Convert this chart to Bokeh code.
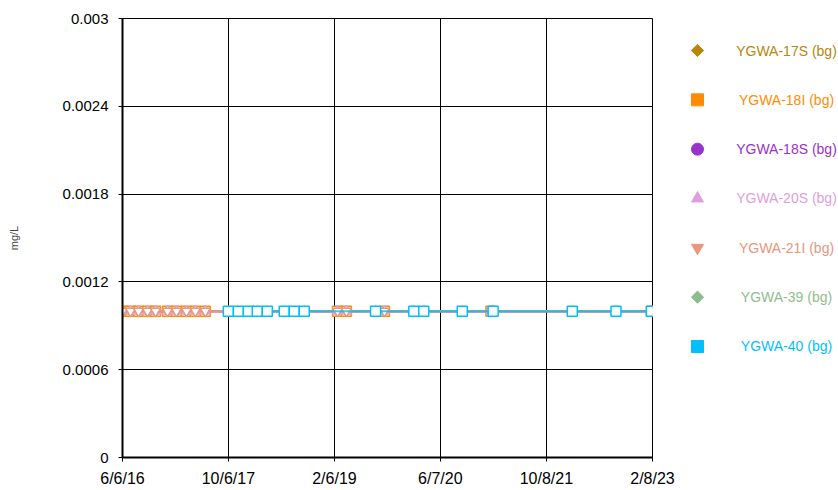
import pandas as pd
from bokeh.plotting import figure
from bokeh.models import Range1d, FixedTicker, ColumnDataSource
from bokeh.layouts import row
from bokeh.embed import file_html
from bokeh.resources import INLINE
from bokeh.core.properties import value

# ---------------- data ----------------
series_names = ["YGWA-17S (bg)", "YGWA-18I (bg)", "YGWA-18S (bg)", "YGWA-20S (bg)",
                "YGWA-21I (bg)", "YGWA-39 (bg)", "YGWA-40 (bg)"]
series_colors = ["#B8860B", "#FF8C00", "#9932CC", "#DDA0DD", "#E9967A", "#8FBC8F", "#00BFFF"]
series_markers = ["diamond", "square", "circle", "triangle", "inverted_triangle", "diamond", "square"]

# sampling dates of the upgradient wells (17S, 18I, 18S, 20S, 21I)
dates_upgradient = ["2016-06-06", "2016-07-13", "2016-08-19", "2016-09-29", "2016-11-05",
                    "2016-12-30", "2017-02-09", "2017-03-27", "2017-05-07", "2017-06-22",
                    "2019-02-20", "2019-04-02", "2019-09-24", "2021-01-26", "2023-02-03"]
values_17S = [0.001, 0.001, 0.001, 0.001, 0.001, 0.001, 0.001, 0.001, 0.001, 0.001, 0.001, 0.001, 0.001, 0.001, 0.001]
values_18I = [0.001, 0.001, 0.001, 0.001, 0.001, 0.001, 0.001, 0.001, 0.001, 0.001, 0.001, 0.001, 0.001, 0.001, 0.001]
values_18S = [0.001, 0.001, 0.001, 0.001, 0.001, 0.001, 0.001, 0.001, 0.001, 0.001, 0.001, 0.001, 0.001, 0.001, 0.001]
values_20S = [0.001, 0.001, 0.001, 0.001, 0.001, 0.001, 0.001, 0.001, 0.001, 0.001, 0.001, 0.001, 0.001, 0.001, 0.001]
values_21I = [0.001, 0.001, 0.001, 0.001, 0.001, 0.001, 0.001, 0.001, 0.001, 0.001, 0.001, 0.001, 0.001, 0.001, 0.001]

# sampling dates of wells 39 and 40
dates_40 = ["2017-10-06", "2017-11-21", "2018-01-06", "2018-02-16", "2018-04-03",
            "2018-06-20", "2018-08-05", "2018-09-20", "2019-08-14", "2020-02-06",
            "2020-03-23", "2020-09-16", "2021-02-05", "2022-02-04", "2022-08-24", "2023-02-03"]
values_39 = [0.001, 0.001, 0.001, 0.001, 0.001, 0.001, 0.001, 0.001, 0.001, 0.001, 0.001, 0.001, 0.001, 0.001, 0.001, 0.001]
values_40 = [0.001, 0.001, 0.001, 0.001, 0.001, 0.001, 0.001, 0.001, 0.001, 0.001, 0.001, 0.001, 0.001, 0.001, 0.001, 0.001]

x_tick_dates = ["2016-06-06", "2017-10-06", "2019-02-06", "2020-06-07", "2021-10-08", "2023-02-08"]
x_tick_labels = ["6/6/16", "10/6/17", "2/6/19", "6/7/20", "10/8/21", "2/8/23"]
y_ticks = [0, 0.0006, 0.0012, 0.0018, 0.0024, 0.003]
y_tick_labels = ["0", "0.0006", "0.0012", "0.0018", "0.0024", "0.003"]
y_label = "mg/L"

series_dates = [dates_upgradient] * 5 + [dates_40, dates_40]
series_values = [values_17S, values_18I, values_18S, values_20S, values_21I, values_39, values_40]

FONT = "Liberation Sans"


def marker_style(m):
    # diamonds drawn as squares turned by 45 degrees (equal width and height)
    if m == "diamond":
        return "square", 0.7854, 0.72
    return m, 0.0, 1.0


# ---------------- main plot ----------------
x_ticks_dt = pd.to_datetime(x_tick_dates)
x_ticks_ms = [int(t.value // 10**6) for t in x_ticks_dt]

W1 = 680
H = 490
FRAME_TOP, FRAME_BOTTOM = 18, 457
p = figure(width=W1, height=H, x_axis_type="datetime",
           x_range=Range1d(x_ticks_dt[0], x_ticks_dt[-1]),
           y_range=Range1d(y_ticks[0], y_ticks[-1]),
           toolbar_location=None, output_backend="svg",
           min_border_left=122, min_border_right=W1 - 652,
           min_border_top=FRAME_TOP, min_border_bottom=H - FRAME_BOTTOM)

p.xaxis.ticker = FixedTicker(ticks=x_ticks_ms)
p.xaxis.major_label_overrides = {ms: lab for ms, lab in zip(x_ticks_ms, x_tick_labels)}
p.yaxis.ticker = FixedTicker(ticks=y_ticks)
p.yaxis.major_label_overrides = {t: lab for t, lab in zip(y_ticks, y_tick_labels)}

for ax in (p.xaxis, p.yaxis):
    ax.axis_line_color = "black"
    ax.axis_line_width = 2
    ax.major_tick_line_color = "black"
    ax.major_tick_out = 4
    ax.major_tick_in = 0
    ax.minor_tick_line_color = None
    ax.major_label_text_font = FONT
    ax.major_label_text_color = "black"

p.xaxis.major_label_text_font_size = "16px"
p.xaxis.major_label_standoff = 8
p.yaxis.major_label_text_font_size = "15px"
p.yaxis.major_label_standoff = 10
p.yaxis.axis_label = y_label
p.yaxis.axis_label_text_font = FONT
p.yaxis.axis_label_text_font_size = "11px"
p.yaxis.axis_label_text_font_style = "normal"
p.yaxis.axis_label_standoff = 40

p.xgrid.ticker = FixedTicker(ticks=x_ticks_ms)
p.ygrid.ticker = FixedTicker(ticks=y_ticks)
p.grid.grid_line_color = "black"
p.grid.grid_line_width = 1
p.grid.grid_line_alpha = 1
p.outline_line_color = "black"
p.outline_line_width = 1
p.background_fill_color = "white"
p.border_fill_color = "white"

draw_order = [5, 0, 1, 2, 3, 4, 6]
for i in draw_order:
    src = ColumnDataSource(dict(x=pd.to_datetime(series_dates[i]), y=series_values[i]))
    p.line("x", "y", source=src, line_color=series_colors[i], line_width=2,
           line_alpha=0.8 if i == 6 else 1.0)
    mk, ang, scale = marker_style(series_markers[i])
    size = 6 if mk == "circle" else 10 * scale
    p.scatter("x", "y", source=src, marker=mk, angle=ang, size=size,
              line_color=series_colors[i], line_width=1.5, fill_color="white")

# ---------------- legend panel ----------------
# (the row aligns this panel's frame with the main plot's frame, so the
#  y range is expressed in page pixels of that frame)
LW = 838 - W1
leg = figure(width=LW, height=H, x_range=Range1d(0, LW),
             y_range=Range1d(FRAME_BOTTOM, FRAME_TOP),
             toolbar_location=None, output_backend="svg",
             x_axis_location=None, y_axis_location=None,
             min_border=0, min_border_left=0, min_border_right=0,
             min_border_top=0, min_border_bottom=0)
leg.grid.visible = False
leg.outline_line_color = None
leg.background_fill_color = "white"
leg.border_fill_color = "white"

n = len(series_names)
styles = [marker_style(m) for m in series_markers]
leg_y = [50 + k * 49.33 for k in range(n)]
leg_src = ColumnDataSource(dict(mx=[697 - W1] * n, tx=[786 - W1] * n, y=leg_y,
                                name=series_names, color=series_colors,
                                marker=[s[0] for s in styles],
                                angle=[s[1] for s in styles],
                                size=[12 * s[2] for s in styles]))
leg.scatter("mx", "y", source=leg_src, marker="marker", size="size", angle="angle",
            fill_color="color", line_color="color")
leg.text("tx", "y", text="name", source=leg_src, text_color="color",
         text_font=value(FONT), text_font_size="14px",
         text_align="center", text_baseline="middle")

layout = row(p, leg)
open("out.html", "w").write(file_html(layout, INLINE))
